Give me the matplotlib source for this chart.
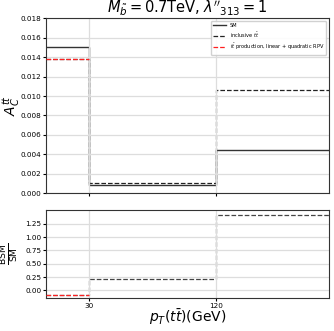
import numpy as np
import matplotlib
matplotlib.use("Agg")
import matplotlib.pyplot as plt

# bin edges in pT(tt) [GeV]
edges = [0, 30, 120, 200]
tick_pos = [30, 120]
tick_labels = ["30", "120"]

# charge asymmetry per bin
ac_sm = [0.0150, 0.0009, 0.0044]
ac_incl = [0.0138, 0.0011, 0.0106]
ac_rpv = [0.0138, np.nan, np.nan]

# ratio BSM / SM
ratio_incl = [-0.08, 0.214, 1.416]
ratio_rpv = [-0.08, np.nan, np.nan]

fig = plt.figure(figsize=(3.34, 3.31), dpi=100)
gs = fig.add_gridspec(2, 1, height_ratios=[2, 1], hspace=0.13,
                      left=0.138, right=0.985, top=0.945, bottom=0.1)
ax = fig.add_subplot(gs[0])
axr = fig.add_subplot(gs[1], sharex=ax)

ax.stairs(ac_sm, edges, baseline=None, color="#333333", lw=1.0, label="SM")
ax.stairs(ac_incl, edges, baseline=None, color="#222222", lw=0.9, ls="--",
          label=r"inclusive $t\bar{t}$")
ax.stairs(ac_rpv, edges, baseline=None, color="#ff2020", lw=0.9, ls="--",
          label=r"$t\bar{t}$ production, linear + quadratic RPV", zorder=3)

ax.set_xlim(0, 200)
ax.set_ylim(0, 0.018)
ax.set_yticks(np.arange(0, 0.0181, 0.002))
ax.tick_params(axis="y", labelsize=5.2, length=2, pad=1.5)
ax.tick_params(axis="x", labelbottom=False, length=2)
ax.set_ylabel(r"$A_C^{t\bar{t}}$", fontsize=10)
ax.yaxis.set_label_coords(-0.085, 0.5)
ax.set_title(r"$M_{\tilde{b}} = 0.7$TeV, $\lambda''_{313} = 1$", fontsize=10.5, pad=1)
ax.grid(True, color="#dddddd", lw=0.9)
ax.legend(loc="upper right", fontsize=3.6, framealpha=0.9, handlelength=2.5,
          borderpad=0.5, labelspacing=0.5)

axr.stairs(ratio_incl, edges, baseline=None, color="#444444", lw=0.9, ls="--")
axr.stairs(ratio_rpv, edges, baseline=None, color="#ff2020", lw=0.9, ls="--", zorder=3)
axr.set_ylim(-0.14, 1.5)
axr.set_yticks([0.0, 0.25, 0.5, 0.75, 1.0, 1.25])
axr.set_xticks(tick_pos)
axr.set_xticklabels(tick_labels)
axr.tick_params(axis="both", labelsize=5.2, length=2, pad=1.5)
axr.set_ylabel(r"$\frac{\mathrm{BSM}}{\mathrm{SM}}$", fontsize=9.5)
axr.yaxis.set_label_coords(-0.09, 0.5)
axr.set_xlabel(r"$p_T(t\bar{t})$(GeV)", fontsize=10, labelpad=-1)
axr.grid(True, color="#dddddd", lw=0.9)

for a in (ax, axr):
    for s in a.spines.values():
        s.set_color("#333333")
        s.set_linewidth(0.8)

fig.savefig("out.png", dpi=100)
